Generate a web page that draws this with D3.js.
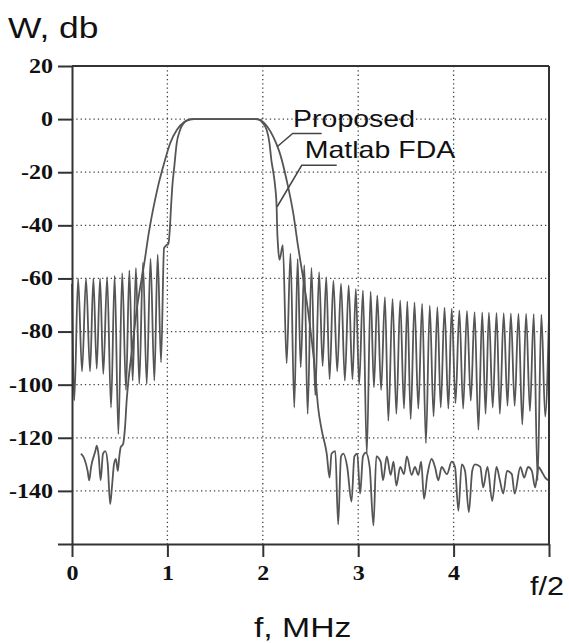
<!DOCTYPE html>
<html>
<head>
<meta charset="utf-8">
<script src="https://cdn.jsdelivr.net/npm/d3@7"></script>
<style>
body { margin: 0; background: #fff; }
</style>
</head>
<body>
<div id="chart"></div>
<script>
var margin = {top: 66, right: 20, bottom: 99, left: 72},
	width = 569 - margin.left - margin.right,
	height = 643 - margin.top - margin.bottom;

// axis ticks and grid
var yTicks = [20, 0, -20, -40, -60, -80, -100, -120, -140, -160];
var xTicks = [0, 1, 2, 3, 4, 5];
var gridY = [0, -20, -40, -60, -80, -100, -120, -140];
var gridX = [1, 2, 3, 4];

// Matlab FDA response, [f MHz, W dB]
var fdaPoints = [
	[0.000, -62], [0.024, -106], [0.064, -60], [0.105, -95], [0.147, -60], [0.189, -95],
	[0.224, -60], [0.259, -94], [0.294, -60], [0.328, -96], [0.368, -59.5], [0.409, -108.6],
	[0.447, -59], [0.486, -118.6], [0.526, -58], [0.566, -102], [0.601, -57], [0.636, -98.5],
	[0.670, -56], [0.705, -99.7], [0.744, -54], [0.783, -99.7], [0.823, -52.5], [0.863, -98.5],
	[0.898, -51], [0.933, -91.6], [0.965, -48.5], [0.990, -47.5], [1.010, -47], [1.027, -40.6],
	[1.038, -33], [1.051, -25.5], [1.072, -18], [1.097, -9.2], [1.132, -4.2], [1.184, -1],
	[1.237, -0.2], [1.28, 0], [1.92, 0], [1.97, -0.4], [2.00, -1.5], [2.04, -4], [2.07, -9],
	[2.09, -15.5], [2.11, -20], [2.13, -25.5], [2.145, -33], [2.15, -40.6], [2.16, -48],
	[2.175, -53], [2.21, -47.5], [2.25, -92], [2.29, -50.7], [2.33, -108.6], [2.365, -52.6],
	[2.397, -93.5], [2.435, -55], [2.47, -111], [2.51, -56], [2.55, -104], [2.59, -57.6],
	[2.627, -93], [2.665, -59.5], [2.70, -98], [2.74, -60.8], [2.78, -95], [2.82, -62],
	[2.86, -98.5], [2.90, -62.6], [2.94, -98], [2.975, -63.9], [3.01, -100], [3.05, -64.5],
	[3.09, -126], [3.13, -65], [3.165, -101], [3.20, -66.4], [3.24, -102], [3.28, -67],
	[3.316, -113.6], [3.36, -67.7], [3.40, -111], [3.44, -68.3], [3.48, -109], [3.515, -68.6],
	[3.55, -113], [3.59, -69], [3.63, -109], [3.67, -69.6], [3.71, -122], [3.75, -70.2],
	[3.79, -112], [3.83, -70.8], [3.865, -108.6], [3.905, -71], [3.945, -109], [3.98, -71.4],
	[4.02, -107], [4.06, -72], [4.10, -109], [4.14, -72.2], [4.18, -106], [4.22, -72.7],
	[4.26, -117], [4.30, -72.8], [4.335, -111], [4.37, -72.9], [4.41, -108.6], [4.45, -73],
	[4.485, -111], [4.525, -73.1], [4.565, -108], [4.60, -73.2], [4.64, -108], [4.68, -73.3],
	[4.72, -115], [4.76, -73.3], [4.80, -110], [4.84, -73.4], [4.88, -136], [4.92, -73.6],
	[4.96, -112], [5.00, -74]
];

// Proposed response, [f MHz, W dB]
var propPoints = [
	[0.094, -126], [0.13, -128], [0.164, -132.5], [0.18, -136], [0.20, -131], [0.245, -125],
	[0.26, -123], [0.28, -127], [0.30, -136], [0.325, -126], [0.35, -125], [0.375, -130],
	[0.40, -145], [0.42, -138], [0.44, -130], [0.46, -128], [0.48, -132.5], [0.495, -127.4],
	[0.51, -123.6], [0.535, -122.4], [0.556, -116], [0.573, -106], [0.59, -99], [0.625, -88],
	[0.678, -72], [0.765, -52.5], [0.80, -44], [0.85, -34], [0.90, -25.6], [0.955, -18],
	[1.03, -9], [1.10, -4], [1.18, -1], [1.24, 0], [1.95, 0], [2.0, -1], [2.05, -3],
	[2.11, -6.7], [2.15, -10], [2.18, -13], [2.25, -23], [2.32, -35.6], [2.37, -48],
	[2.41, -57], [2.477, -73], [2.547, -94.7], [2.58, -108.6], [2.617, -117], [2.67, -126],
	[2.70, -135], [2.72, -126], [2.76, -125], [2.79, -152.6], [2.82, -127], [2.845, -126],
	[2.885, -131], [2.93, -144], [2.96, -127], [2.99, -126], [3.02, -141], [3.05, -127],
	[3.08, -125.6], [3.12, -131], [3.16, -153], [3.19, -127], [3.235, -129], [3.26, -136],
	[3.30, -127], [3.34, -134], [3.37, -129], [3.40, -138], [3.44, -131], [3.48, -133.7],
	[3.51, -127], [3.56, -134], [3.595, -131], [3.63, -134], [3.66, -129], [3.69, -143],
	[3.725, -134], [3.77, -128], [3.805, -131], [3.84, -136], [3.875, -131], [3.93, -133.7],
	[3.98, -129], [4.015, -131], [4.05, -147.5], [4.085, -130], [4.12, -132.5], [4.16, -148],
	[4.195, -132.5], [4.225, -130], [4.28, -131], [4.31, -138.7], [4.355, -131], [4.405, -143.8],
	[4.45, -131], [4.485, -136], [4.52, -141], [4.56, -132.5], [4.61, -133.7], [4.64, -141],
	[4.70, -131], [4.74, -135], [4.78, -131], [4.82, -132.5], [4.855, -138.7], [4.89, -131],
	[4.92, -132.5], [4.96, -135], [4.99, -136]
];

// labels with leader lines: text anchor, then leader polyline, all in [f, dB]
var labels = ["Proposed", "Matlab FDA"];
var labelPos = [[2.317, -3], [2.44, -14.7]];
var leaders = [
	[[2.617, -5.4], [2.313, -5.4], [2.15, -10.4]],
	[[2.775, -17.4], [2.408, -17.4], [2.15, -33]]
];

var svg = d3.select("#chart")
	.append("svg")
		.attr("width", width + margin.left + margin.right)
		.attr("height", height + margin.top + margin.bottom)
	.append("g")
		.attr("transform", "translate(" + margin.left + "," + margin.top + ")");

var x = d3.scaleLinear().domain([0, 5]).range([0, width]);
var y = d3.scaleLinear().domain([-160, 20]).range([height, 0]);

var sx = 1.2; // the original lettering is stretched sideways

// dotted grid
svg.selectAll("gridH")
	.data(gridY)
	.enter()
	.append("line")
		.attr("x1", 0)
		.attr("x2", width)
		.attr("y1", function(d) { return y(d) })
		.attr("y2", function(d) { return y(d) })
		.attr("stroke", "#444")
		.attr("stroke-width", 1.3)
		.attr("stroke-dasharray", "1.3,3");

svg.selectAll("gridV")
	.data(gridX)
	.enter()
	.append("line")
		.attr("x1", function(d) { return x(d) })
		.attr("x2", function(d) { return x(d) })
		.attr("y1", 0)
		.attr("y2", height)
		.attr("stroke", "#444")
		.attr("stroke-width", 1.3)
		.attr("stroke-dasharray", "1.3,3");

// curves
var line = d3.line()
	.x(function(d) { return x(d[0]) })
	.y(function(d) { return y(d[1]) })
	.curve(d3.curveMonotoneX);

svg.append("path")
	.datum(propPoints)
	.attr("d", line)
	.attr("fill", "none")
	.attr("stroke", "#555")
	.attr("stroke-width", 1.8);

svg.append("path")
	.datum(fdaPoints)
	.attr("d", line)
	.attr("fill", "none")
	.attr("stroke", "#555")
	.attr("stroke-width", 1.8);

// frame: top and right
svg.append("line")
	.attr("x1", x(0)).attr("x2", x(5))
	.attr("y1", y(20)).attr("y2", y(20))
	.attr("stroke", "#333").attr("stroke-width", 2);
svg.append("line")
	.attr("x1", x(5)).attr("x2", x(5))
	.attr("y1", y(20)).attr("y2", y(-160))
	.attr("stroke", "#333").attr("stroke-width", 2);

// axes
var yAxis = svg.append("g")
	.call(d3.axisLeft(y)
		.tickValues(yTicks)
		.tickSize(14)
		.tickSizeOuter(0)
		.tickFormat(function(d) { return d == -160 ? "" : d }));

var xAxis = svg.append("g")
	.attr("transform", "translate(0," + height + ")")
	.call(d3.axisBottom(x)
		.tickValues(xTicks)
		.tickSize(13)
		.tickSizeOuter(0)
		.tickPadding(9)
		.tickFormat(function(d) { return d == 5 ? "" : d }));

[yAxis, xAxis].forEach(function(a) {
	a.select(".domain").attr("stroke", "#333").attr("stroke-width", 2);
	a.selectAll(".tick line").attr("stroke", "#333").attr("stroke-width", 2);
	a.selectAll(".tick text")
		.attr("fill", "#111")
		.style("font-family", "'Liberation Serif', 'Times New Roman', serif")
		.style("font-weight", "bold")
		.style("font-size", "20px")
		.attr("transform", "scale(" + sx + ",1)");
});
yAxis.selectAll(".tick text").attr("x", -19 / sx);

// curve labels and leaders
svg.selectAll("leaders")
	.data(leaders)
	.enter()
	.append("path")
		.attr("d", d3.line()
			.x(function(d) { return x(d[0]) })
			.y(function(d) { return y(d[1]) }))
		.attr("fill", "none")
		.attr("stroke", "#444")
		.attr("stroke-width", 1.5);

svg.selectAll("curveLabels")
	.data(labels)
	.enter()
	.append("text")
		.attr("transform", function(d, i) {
			return "translate(" + x(labelPos[i][0]) + "," + y(labelPos[i][1]) + ") scale(1.24,1)" })
		.style("font-family", "'Liberation Sans', Arial, sans-serif")
		.style("font-size", "23px")
		.attr("fill", "#111")
		.text(function(d) { return d });

// axis titles
var root = d3.select("#chart svg");
root.append("text")
	.attr("transform", "translate(8,38) scale(1.18,1)")
	.style("font-family", "'Liberation Sans', Arial, sans-serif")
	.style("font-size", "30px")
	.attr("fill", "#111")
	.text("W, db");

root.append("text")
	.attr("transform", "translate(254,637) scale(1.25,1)")
	.style("font-family", "'Liberation Sans', Arial, sans-serif")
	.style("font-size", "27px")
	.attr("fill", "#111")
	.text("f, MHz");

root.append("text")
	.attr("transform", "translate(530,595) scale(1.18,1)")
	.style("font-family", "'Liberation Sans', Arial, sans-serif")
	.style("font-size", "26px")
	.attr("fill", "#111")
	.text("f/2");
</script>
</body>
</html>
